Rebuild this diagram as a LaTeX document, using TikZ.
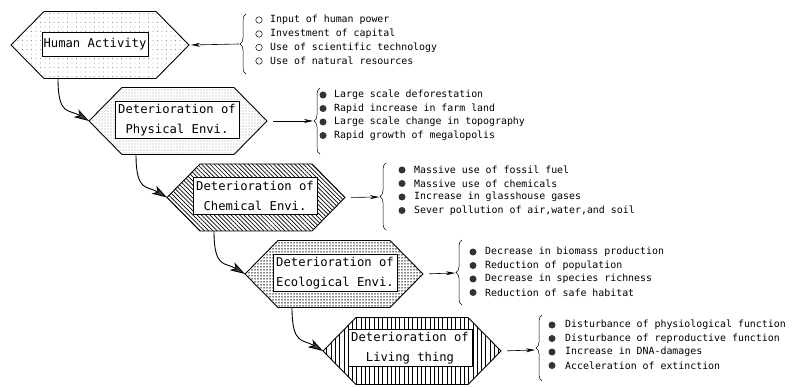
\documentclass[tikz,border=0pt]{standalone}
\usepackage{fontspec}
\setmonofont{DejaVu Sans Mono}
\usetikzlibrary{patterns.meta,arrows.meta,decorations.pathreplacing}
\tikzset{
 hexline/.style={draw=black, line width=0.9pt, line join=miter},
 inbox/.style={draw=black, line width=0.6pt, fill=white, font=\fontsize{12.2}{20}\selectfont\ttfamily, align=center, inner sep=1pt, minimum width=124pt, minimum height=37pt},
 item/.style={anchor=west, inner sep=0pt, font=\fontsize{9.9}{12}\selectfont\ttfamily},
 obul/.style={circle, draw=black, line width=0.5pt, minimum size=6.5pt, inner sep=0pt},
 fbul/.style={circle, fill=black!80, minimum size=7pt, inner sep=0pt},
 link/.style={line width=0.9pt, -{Stealth[length=15pt,width=9pt,inset=4pt,fill=black!75]}},
 feed/.style={line width=0.6pt, -{Stealth[length=9pt,width=4pt]}},
 brc/.style={decorate, decoration={brace, amplitude=6pt}, line width=0.5pt},
 patA/.style={pattern={Dots[distance=4.5pt, radius=0.45pt]}, pattern color=black!70},
 patB/.style={pattern={Dots[distance=3pt, radius=0.45pt]}},
 patC/.style={pattern={Lines[angle=-45, distance=3pt, line width=0.7pt]}},
 patD/.style={pattern={Dots[distance=3pt, radius=0.75pt]}},
 patE/.style={pattern={Lines[angle=90, distance=4.3pt, line width=0.9pt]}},
}
\newcommand\hexshape[4]{%
 \path[hexline,#4] ({#2-89},#3) -- ({#2-56},{#3-33.5}) -- ({#2+56},{#3-33.5}) -- ({#2+89},#3) -- ({#2+56},{#3+33.5}) -- ({#2-56},{#3+33.5}) -- cycle;
 \coordinate (#1-L) at ({#2-89},#3);
 \coordinate (#1-R) at ({#2+89},#3);
 \coordinate (#1-B) at ({#2-42},{#3+33.5});
}
\begin{document}
\begin{tikzpicture}[x=1pt,y=-1pt]
\useasboundingbox (0,0) rectangle (795,387);

% hexagons
\hexshape{ha}{100}{45}{patA}
\node[inbox, minimum width=106pt, minimum height=24pt] (haT) at (95,44) {Human Activity};
\hexshape{h2}{178}{121}{patB}
\node[inbox] (h2T) at (177,120) {Deterioration of\\Physical Envi.};
\hexshape{h3}{256}{197.5}{patC}
\node[inbox] (h3T) at (255,196) {Deterioration of\\Chemical Envi.};
\hexshape{h4}{334}{274}{patD}
\node[inbox] (h4T) at (335,273) {Deterioration of\\Ecological Envi.};
\hexshape{h5}{412}{351}{patE}
\node[inbox] (h5T) at (410,348) {Deterioration of\\Living thing};

% links between hexagons
\draw[link] (ha-B) .. controls +(0,38) and +(-20,-12) .. (h2-L);
\draw[link] (h2-B) .. controls +(0,38) and +(-20,-12) .. (h3-L);
\draw[link] (h3-B) .. controls +(0,38) and +(-20,-12) .. (h4-L);
\draw[link] (h4-B) .. controls +(0,38) and +(-20,-12) .. (h5-L);

% list 1
\draw[brc] (246,74) -- (246,14);
\coordinate (b1) at (239,44);
\draw[feed] (b1) -- ([xshift=2pt]ha-R);
\node[obul] (o1) at (259,20) {};
\node[obul] (o2) at (259,34) {};
\node[obul] (o3) at (259,47.5) {};
\node[obul] (o4) at (259,61) {};
\node[item] (t11) at (270,20) {Input of human power};
\node[item] (t12) at (270,34) {Investment of capital};
\node[item] (t13) at (270,47.5) {Use of scientific technology};
\node[item] (t14) at (270,61) {Use of natural resources};

% list 2
\draw[brc] (320,154) -- (320,88);
\coordinate (b2) at (313,121);
\draw[feed, shorten <=6pt] (h2-R) -- (b2);
\node[fbul] (p1) at (323,95) {};
\node[fbul] (p2) at (323,108.5) {};
\node[fbul] (p3) at (323,122) {};
\node[fbul] (p4) at (323,135.5) {};
\node[item] (t21) at (334,95) {Large scale deforestation};
\node[item] (t22) at (334,108.5) {Rapid increase in farm land};
\node[item] (t23) at (334,122) {Large scale change in topography};
\node[item] (t24) at (334,135.5) {Rapid growth of megalopolis};

% list 3
\draw[brc] (386,230) -- (386,163);
\coordinate (b3) at (379,197);
\draw[feed, shorten <=6pt] (h3-R) -- (b3);
\node[fbul] (q1) at (402,170) {};
\node[fbul] (q2) at (402,183.5) {};
\node[fbul] (q3) at (402,197) {};
\node[fbul] (q4) at (402,210.5) {};
\node[item] (t31) at (414,170) {Massive use of fossil fuel};
\node[item] (t32) at (414,183.5) {Massive use of chemicals};
\node[item] (t33) at (414,197) {Increase in glasshouse gases};
\node[item] (t34) at (414,210.5) {Sever pollution of air,water,and soil};

% list 4
\draw[brc] (462,305) -- (462,240);
\coordinate (b4) at (455,273);
\draw[feed, shorten <=6pt] (h4-R) -- (b4);
\node[fbul] (r1) at (473,252) {};
\node[fbul] (r2) at (473,265.5) {};
\node[fbul] (r3) at (473,279) {};
\node[fbul] (r4) at (473,292.5) {};
\node[item] (t41) at (485,252) {Decrease in biomass production};
\node[item] (t42) at (485,265.5) {Reduction of population};
\node[item] (t43) at (485,279) {Decrease in species richness};
\node[item] (t44) at (485,292.5) {Reduction of safe habitat};

% list 5
\draw[brc] (542,381) -- (542,315);
\coordinate (b5) at (535,350);
\draw[feed, shorten <=6pt] (h5-R) -- (b5);
\node[fbul] (s1) at (552,325) {};
\node[fbul] (s2) at (552,338.5) {};
\node[fbul] (s3) at (552,352) {};
\node[fbul] (s4) at (552,365.5) {};
\node[item] (t51) at (565,325) {Disturbance of physiological function};
\node[item] (t52) at (565,338.5) {Disturbance of reproductive function};
\node[item] (t53) at (565,352) {Increase in DNA-damages};
\node[item] (t54) at (565,365.5) {Acceleration of extinction};
\end{tikzpicture}
\end{document}
